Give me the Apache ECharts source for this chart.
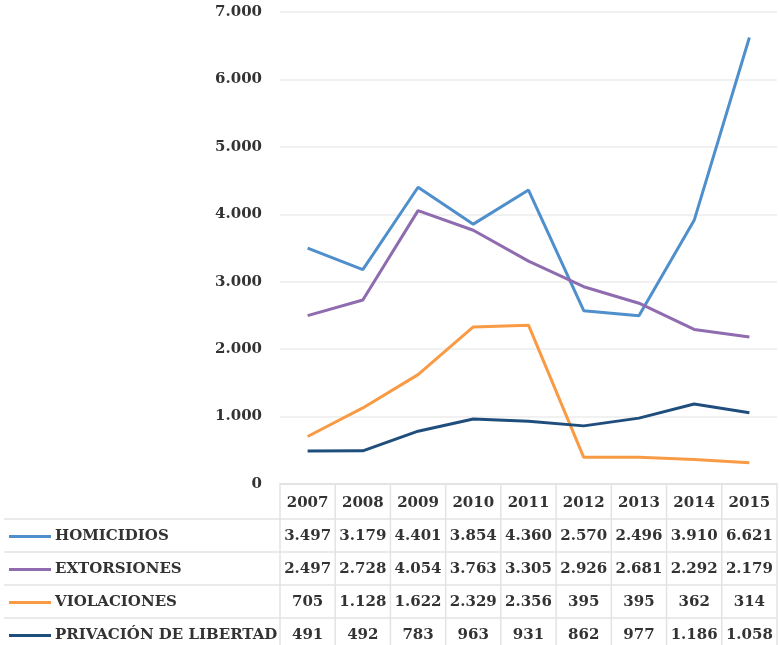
<!DOCTYPE html>
<html>
<head>
<meta charset="utf-8">
<script src="https://cdn.jsdelivr.net/npm/echarts@6/dist/echarts.min.js"></script>
<style>
  html, body { margin: 0; padding: 0; background: #fff; }
  #chart { width: 779px; height: 645px; }
</style>
</head>
<body>
<div id="chart"></div>
<script>
  var years = ['2007', '2008', '2009', '2010', '2011', '2012', '2013', '2014', '2015']
  var seriesNames = ['HOMICIDIOS', 'EXTORSIONES', 'VIOLACIONES', 'PRIVACIÓN DE LIBERTAD']
  var homicidios = [3497, 3179, 4401, 3854, 4360, 2570, 2496, 3910, 6621]
  var extorsiones = [2497, 2728, 4054, 3763, 3305, 2926, 2681, 2292, 2179]
  var violaciones = [705, 1128, 1622, 2329, 2356, 395, 395, 362, 314]
  var privacion = [491, 492, 783, 963, 931, 862, 977, 1186, 1058]
  var colors = ['#4f8fcc', '#8f6bb0', '#f99b45', '#1f4e7d']

  var allData = [homicidios, extorsiones, violaciones, privacion]
  var fontFam = '"DejaVu Serif", serif'
  var fontSize = 15
  var textColor = '#333'

  // 3.497 style thousands separator
  function fmt(v) {
    return String(v).replace(/\B(?=(\d{3})+(?!\d))/g, '.')
  }

  var chart = echarts.init(document.getElementById('chart'))

  chart.setOption({
    animation: false,
    grid: { left: 280, right: 2, top: 12, bottom: 161 },
    xAxis: {
      type: 'category',
      data: years,
      boundaryGap: true,
      axisLine: { lineStyle: { color: '#e3e3e3', width: 2 } },
      axisTick: { show: false },
      axisLabel: {
        margin: 12,
        fontFamily: fontFam,
        fontWeight: 'bold',
        fontSize: fontSize,
        color: textColor
      }
    },
    yAxis: {
      type: 'value',
      min: 0,
      max: 7000,
      interval: 1000,
      axisLine: { show: false },
      axisTick: { show: false },
      splitLine: { lineStyle: { color: '#ececec', width: 1.5 } },
      axisLabel: {
        margin: 18,
        fontFamily: fontFam,
        fontWeight: 'bold',
        fontSize: fontSize,
        color: textColor,
        formatter: function (v) { return fmt(v) }
      }
    },
    series: allData.map(function (d, i) {
      return {
        name: seriesNames[i],
        type: 'line',
        data: d,
        showSymbol: false,
        lineStyle: { color: colors[i], width: 3 },
        itemStyle: { color: colors[i] }
      }
    })
  })

  // data table under the plot
  var rowTop = 519
  var rowH = 33
  var gridColor = '#e3e3e3'
  var half = (chart.convertToPixel({ xAxisIndex: 0 }, 1) - chart.convertToPixel({ xAxisIndex: 0 }, 0)) / 2
  var els = []

  // vertical lines
  for (var c = 0; c <= years.length; c++) {
    var x = c < years.length ? chart.convertToPixel({ xAxisIndex: 0 }, c) - half : chart.convertToPixel({ xAxisIndex: 0 }, c - 1) + half
    els.push({
      type: 'line',
      shape: { x1: x, y1: 485, x2: x, y2: 645 },
      style: { stroke: gridColor, lineWidth: 1.5 }
    })
  }
  // horizontal lines
  for (var r = 0; r < 4; r++) {
    els.push({
      type: 'line',
      shape: { x1: 4, y1: rowTop + r * rowH, x2: 777, y2: rowTop + r * rowH },
      style: { stroke: gridColor, lineWidth: 1.5 }
    })
  }

  allData.forEach(function (d, r) {
    var cy = rowTop + r * rowH + rowH / 2 + 1
    els.push({
      type: 'line',
      shape: { x1: 9, y1: cy, x2: 51, y2: cy },
      style: { stroke: colors[r], lineWidth: 3 }
    })
    els.push({
      type: 'text',
      x: 55,
      y: cy,
      style: {
        text: seriesNames[r],
        fontFamily: fontFam,
        fontWeight: 'bold',
        fontSize: fontSize,
        fill: textColor,
        verticalAlign: 'middle'
      }
    })
    d.forEach(function (v, c) {
      els.push({
        type: 'text',
        x: chart.convertToPixel({ xAxisIndex: 0 }, c),
        y: cy,
        style: {
          text: fmt(v),
          fontFamily: fontFam,
          fontWeight: 'bold',
          fontSize: fontSize,
          fill: textColor,
          align: 'center',
          verticalAlign: 'middle'
        }
      })
    })
  })

  chart.setOption({ graphic: { elements: els } })
</script>
</body>
</html>
